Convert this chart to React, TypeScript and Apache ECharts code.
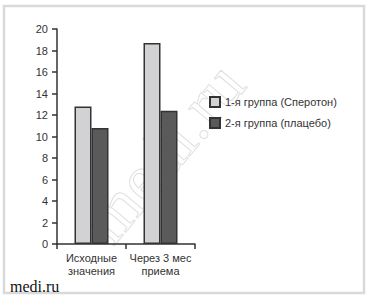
import React, { useEffect, useRef } from "react";
import * as echarts from "echarts";

const categories = ["Исходные\nзначения", "Через 3 мес\nприема"];
const group1 = [12.8, 18.7];
const group2 = [10.8, 12.4];
const seriesNames = ["1-я группа (Сперотон)", "2-я группа (плацебо)"];
const yTicks = { min: 0, max: 20, interval: 2 };

export default function App() {
  const ref = useRef<HTMLDivElement>(null);
  useEffect(() => {
    document.body.style.margin = "0";
    const chart = echarts.init(ref.current!, null, { renderer: "svg" });
    const font = "'Liberation Sans', Arial, sans-serif";
    chart.setOption({
      animation: false,
      backgroundColor: "#ffffff",
      grid: { left: 57, right: 173, top: 29, bottom: 55 },
      legend: {
        orient: "vertical",
        left: 204,
        top: 91,
        itemWidth: 10,
        itemHeight: 10,
        itemGap: 9,
        icon: "rect",
        textStyle: { fontSize: 11, color: "#333", fontFamily: font },
        data: seriesNames,
      },
      xAxis: {
        type: "category",
        data: categories,
        axisLine: { lineStyle: { color: "#333", width: 1.5 } },
        axisTick: { show: true, length: 5, lineStyle: { color: "#333", width: 1.5 } },
        axisLabel: {
          interval: 0,
          fontSize: 11,
          lineHeight: 13,
          color: "#333",
          fontFamily: font,
          margin: 7,
        },
      },
      yAxis: {
        type: "value",
        min: yTicks.min,
        max: yTicks.max,
        interval: yTicks.interval,
        splitLine: { show: false },
        axisLine: { show: true, lineStyle: { color: "#333", width: 1.5 } },
        axisTick: { show: true, length: 5, lineStyle: { color: "#333", width: 1.5 } },
        axisLabel: { fontSize: 11, color: "#333", fontFamily: font, margin: 9 },
      },
      series: [
        {
          name: seriesNames[0],
          type: "bar",
          data: group1,
          barWidth: 17,
          barGap: "0%",
          itemStyle: { color: "#d2d2d4", borderColor: "#333", borderWidth: 1.5 },
        },
        {
          name: seriesNames[1],
          type: "bar",
          data: group2,
          barWidth: 17,
          itemStyle: { color: "#5a5a5a", borderColor: "#333", borderWidth: 1.5 },
        },
      ],
      graphic: [
        {
          type: "rect",
          shape: { x: 4, y: 6, width: 360, height: 287 },
          style: { fill: "none", stroke: "#d9d9d9", lineWidth: 2.5 },
          silent: true,
        },
        {
          type: "text",
          x: 163,
          y: 152,
          rotation: (50 * Math.PI) / 180,
          style: {
            text: "medi.ru",
            font: "68px 'Liberation Serif', 'Times New Roman', serif",
            fill: "none",
            stroke: "#e0e0e0",
            lineWidth: 1,
            align: "center",
            verticalAlign: "middle",
          },
          silent: true,
          z: -1,
        },
        {
          type: "text",
          left: 10,
          top: 278,
          style: {
            text: "medi.ru",
            font: "16px 'Liberation Serif', 'Times New Roman', serif",
            fill: "#111",
          },
        },
      ],
    });
    return () => chart.dispose();
  }, []);
  return <div ref={ref} style={{ width: 368, height: 299 }} />;
}
